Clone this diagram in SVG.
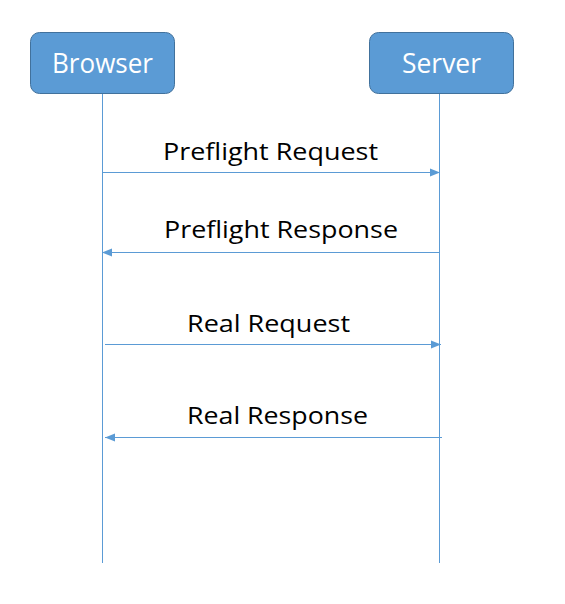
<svg xmlns="http://www.w3.org/2000/svg" width="565" height="604" viewBox="0 0 565 604">
<defs>
<style>
.box{fill:#5B9BD5;stroke:#41719C;stroke-width:1}
.name{fill:#FFFFFF;font-family:"Open Sans","Liberation Sans",sans-serif;font-size:27px;text-anchor:middle}
.life{stroke:#5B9BD5;stroke-width:1;fill:none}
.msg{stroke:#5B9BD5;stroke-width:1;fill:none;marker-end:url(#ah)}
.lbl{fill:#000000;font-family:"Open Sans","Liberation Sans",sans-serif;font-size:23.5px}
</style>
<marker id="ah" viewBox="0 0 10 10" refX="10" refY="5" markerWidth="10" markerHeight="10" markerUnits="userSpaceOnUse" orient="auto">
<path d="M0,1 L10,5 L0,9 Z" fill="#5B9BD5"/>
</marker>
</defs>
<rect width="565" height="604" fill="#FFFFFF"/>
<g id="browser">
<rect class="box" x="30.5" y="32.5" width="144" height="61" rx="9" ry="9"/>
<text class="name" x="102.5" y="73" textLength="101" lengthAdjust="spacingAndGlyphs">Browser</text>
</g>
<g id="server">
<rect class="box" x="369.5" y="32.5" width="144" height="61" rx="9" ry="9"/>
<text class="name" x="441.5" y="73" textLength="79" lengthAdjust="spacingAndGlyphs">Server</text>
</g>
<g id="connectors">
<line class="life" x1="102.5" y1="94" x2="102.5" y2="563"/>
<line class="life" x1="439.5" y1="94" x2="439.5" y2="563"/>
<line class="msg" x1="102.5" y1="172.5" x2="440" y2="172.5"/>
<line class="msg" x1="439.5" y1="252.5" x2="102" y2="252.5"/>
<line class="msg" x1="105" y1="344.5" x2="441" y2="344.5"/>
<line class="msg" x1="442" y1="437.5" x2="105" y2="437.5"/>
</g>
<g id="labels">
<text class="lbl" x="163" y="160" textLength="215" lengthAdjust="spacingAndGlyphs">Preflight Request</text>
<text class="lbl" x="164" y="238" textLength="234" lengthAdjust="spacingAndGlyphs">Preflight Response</text>
<text class="lbl" x="187" y="332" textLength="163" lengthAdjust="spacingAndGlyphs">Real Request</text>
<text class="lbl" x="187" y="424" textLength="181" lengthAdjust="spacingAndGlyphs">Real Response</text>
</g>
</svg>
